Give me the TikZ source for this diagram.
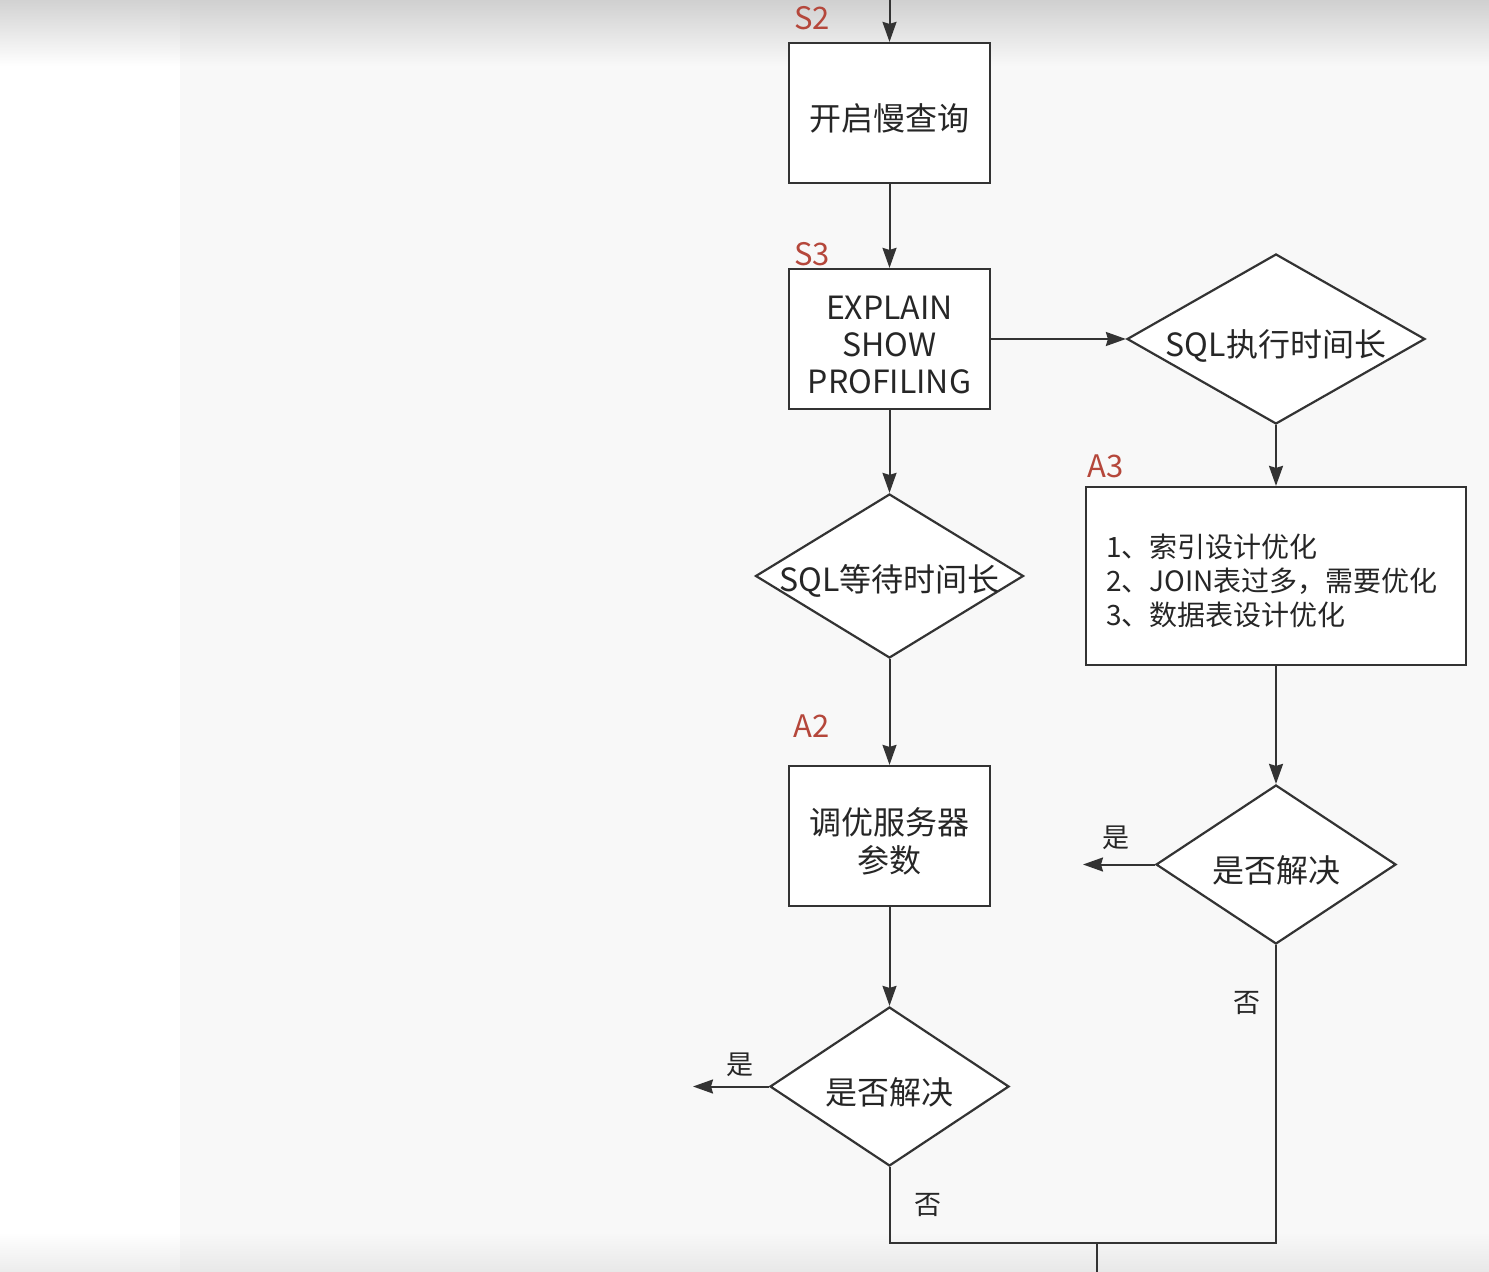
\documentclass[tikz,border=0pt]{standalone}
\usepackage{fontspec}
\setmainfont{Noto Sans CJK SC}
\usetikzlibrary{shapes.geometric,arrows.meta}
\definecolor{bgc}{HTML}{F8F8F8}
\definecolor{ln}{HTML}{333333}
\definecolor{txt}{HTML}{262626}
\definecolor{lab}{HTML}{B5473B}
\begin{document}
\begin{tikzpicture}[x=0.5pt,y=-0.5pt,
  box/.style={draw=ln, line width=1.1pt, fill=white, minimum width=100.5pt, minimum height=70pt, inner sep=0pt, align=center, text width=100pt, text=txt, text height=18.5pt, font=\fontsize{16}{18.5}\selectfont},
  dia/.style={draw=ln, line width=1.1pt, fill=white, diamond, inner sep=0pt},
  dtext/.style={text=txt, font=\fontsize{16}{18}\selectfont},
  tag/.style={text=lab, font=\fontsize{15.5}{18}\selectfont},
  small/.style={text=txt, font=\fontsize{13.5}{16}\selectfont},
  conn/.style={draw=ln, line width=1pt},
  arr/.style={conn, -{Stealth[length=10pt,width=7pt,inset=1pt]}},
]
\useasboundingbox (0,0) rectangle (1489,1272);
% background
\fill[white] (0,0) rectangle (180,1272);
\fill[bgc] (180,0) rectangle (1489,1272);
\shade[top color={rgb,255:red,210;green,210;blue,210}, bottom color=white] (0,0) rectangle (180,66);
\shade[top color={rgb,255:red,208;green,208;blue,208}, bottom color=bgc] (180,0) rectangle (1489,66);
\shade[top color=bgc, bottom color={rgb,255:red,232;green,232;blue,232}] (180,1232) rectangle (1489,1272);
\shade[top color=white, bottom color={rgb,255:red,236;green,236;blue,236}] (0,1232) rectangle (180,1272);

% nodes
\node[box] (s2) at (889.5,113) {开启慢查询};
\node[box, text height=17.5pt] (s3) at (889.5,339) {EXPLAIN\\SHOW\\PROFILING};
\node[dia, minimum width=149pt, minimum height=85pt] (d1) at (1276,339) {};
\node[dtext] (d1t) at (1276,346) {SQL执行时间长};
\node[dia, minimum width=134pt, minimum height=82pt] (d2) at (889.5,576) {};
\node[dtext] (d2t) at (889.5,581) {SQL等待时间长};
\node[box, font=\fontsize{16}{19}\selectfont] (a2) at (889.5,836) {调优服务器\\参数};
\node[dia, minimum width=119.5pt, minimum height=79.5pt] (d3) at (889.5,1086.5) {};
\node[dtext] (d3t) at (889.5,1092) {是否解决};
\node[box, minimum width=190pt, minimum height=89pt, text width=170pt, align=left, text height=17pt, font=\fontsize{14}{17}\selectfont] (a3) at (1276,576) {1、索引设计优化\\2、JOIN表过多，需要优化\\3、数据表设计优化};
\node[dia, minimum width=120pt, minimum height=79.5pt] (d4) at (1276,864.5) {};
\node[dtext] (d4t) at (1276,870) {是否解决};

% tags
\node[tag] (ts2) at (812,18) {S2};
\node[tag] (ts3) at (812,254) {S3};
\node[tag] (ta2) at (812,726) {A2};
\node[tag] (ta3) at (1106,466) {A3};

% small labels
\node[small] (y1) at (740,1065) {是};
\node[small] (n1) at (928,1205) {否};
\node[small] (y2) at (1116,838) {是};
\node[small] (n2) at (1247,1003) {否};

% coordinates
\coordinate (top) at (889.5,0);
\coordinate (ye1) at (693,1086.5);
\coordinate (ye2) at (1083,864.5);
\coordinate (j1) at (1276,1243);
\coordinate (m) at (1097,1243);
\coordinate (bot) at (1097,1272);

% connectors
\draw[arr] (top) -- (s2.north);
\draw[arr] (s2.south) -- (s3.north);
\draw[arr] (s3.east) -- (d1.west);
\draw[arr] (s3.south) -- (d2.north);
\draw[arr] (d2.south) -- (a2.north);
\draw[arr] (a2.south) -- (d3.north);
\draw[arr] (d1.south) -- (a3.north);
\draw[arr] (a3.south) -- (d4.north);
\draw[arr] (d3.west) -- (ye1);
\draw[arr] (d4.west) -- (ye2);
\draw[conn] (d3.south) |- (j1) -- (d4.south);
\draw[conn] (m) -- (bot);
\end{tikzpicture}
\end{document}
